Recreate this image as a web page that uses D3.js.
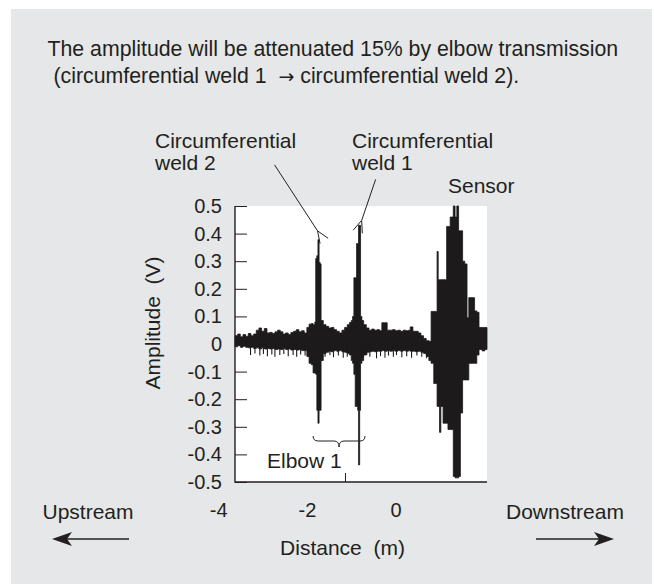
<!DOCTYPE html>
<head>
<meta charset="utf-8">
</head>
<style>
  body { margin: 0; background: #fff; }
  svg text { font-family: "Liberation Sans", Arial, sans-serif; fill: #231f20; white-space: pre; }
  .tick text { font-size: 20px; }
  .tick line { stroke: #231f20; }
</style>
<body>
<script src="https://d3js.org/d3.v7.min.js"></script>
<script>

var distance = [-3.62, -3.56, -3.50, -3.44, -3.38, -3.32, -3.26, -3.20, -3.14, -3.08, -3.02, -2.96, -2.90, -2.84, -2.78, -2.72,
  -2.66, -2.60, -2.54, -2.48, -2.42, -2.36, -2.30, -2.24, -2.18, -2.12, -2.06,
  -2.00, -1.95, -1.90, -1.86, -1.82, -1.80, -1.775, -1.75, -1.725, -1.70, -1.68, -1.63, -1.57, -1.51, -1.45, -1.39,
  -1.33, -1.27, -1.21, -1.15, -1.09, -1.04,
  -1.00, -0.97, -0.94, -0.91, -0.88, -0.855, -0.835, -0.81, -0.79, -0.76, -0.72, -0.66, -0.60, -0.54, -0.48, -0.42,
  -0.36, -0.31, -0.25, -0.19, -0.13, -0.07, -0.01, 0.05, 0.11, 0.17, 0.23, 0.29, 0.33, 0.39, 0.45, 0.51, 0.57, 0.63, 0.69, 0.75,
  0.80, 0.86, 0.92, 0.935, 0.96, 0.99, 1.02, 1.07, 1.12, 1.15, 1.18, 1.23, 1.27, 1.30, 1.34, 1.38, 1.42, 1.46, 1.51, 1.56,
  1.61, 1.65, 1.70, 1.75, 1.78, 1.83, 1.88, 1.95, 2.01, 2.06]

var upper = [0.030, 0.036, 0.026, 0.034, 0.028, 0.038, 0.030, 0.036, 0.050, 0.058, 0.046, 0.056, 0.040, 0.042, 0.038, 0.044,
  0.050, 0.044, 0.036, 0.040, 0.034, 0.042, 0.046, 0.052, 0.044, 0.048, 0.040,
  0.060, 0.072, 0.074, 0.070, 0.080, 0.310, 0.320, 0.378, 0.295, 0.290, 0.085, 0.070, 0.064, 0.058, 0.060, 0.052,
  0.046, 0.040, 0.050, 0.060, 0.070, 0.078,
  0.085, 0.100, 0.240, 0.240, 0.364, 0.364, 0.430, 0.430, 0.100, 0.085, 0.070, 0.058, 0.050, 0.054, 0.050, 0.052,
  0.048, 0.077, 0.077, 0.050, 0.050, 0.052, 0.048, 0.050, 0.046, 0.050, 0.048, 0.050, 0.062, 0.046, 0.046, 0.040, 0.030, 0.020, 0.012, 0.010,
  0.118, 0.118, 0.118, 0.335, 0.233, 0.233, 0.233, 0.233, 0.233, 0.426, 0.426, 0.460, 0.460, 0.500, 0.460, 0.500, 0.410, 0.410, 0.300, 0.290,
  0.095, 0.168, 0.168, 0.168, 0.120, 0.115, 0.060, 0.060, 0.060, 0.060]

var lower = [-0.010, -0.006, -0.012, -0.008, -0.012, -0.014, -0.012, -0.016, -0.014, -0.018, -0.014, -0.018, -0.016, -0.018, -0.016, -0.020,
  -0.018, -0.020, -0.016, -0.020, -0.018, -0.022, -0.020, -0.022, -0.020, -0.024, -0.024,
  -0.045, -0.070, -0.075, -0.105, -0.105, -0.110, -0.240, -0.287, -0.240, -0.240, -0.060, -0.035, -0.030, -0.026, -0.028, -0.024,
  -0.026, -0.024, -0.028, -0.030, -0.034, -0.040,
  -0.060, -0.070, -0.110, -0.226, -0.226, -0.240, -0.438, -0.240, -0.070, -0.060, -0.040, -0.030, -0.028, -0.026, -0.028, -0.026,
  -0.026, -0.024, -0.026, -0.024, -0.026, -0.024, -0.026, -0.024, -0.026, -0.024, -0.026, -0.024, -0.026, -0.026, -0.028, -0.026, -0.030, -0.034, -0.045, -0.060,
  -0.070, -0.143, -0.143, -0.226, -0.226, -0.320, -0.226, -0.287, -0.287, -0.287, -0.310, -0.310, -0.310, -0.480, -0.485, -0.485, -0.480, -0.250, -0.130, -0.130,
  -0.130, -0.070, -0.070, -0.070, -0.070, -0.040, -0.020, -0.025, -0.020, -0.020]

// thin downward spikes below the noise band
var spikeDistance = [-3.27, -3.17, -3.06, -2.98, -2.89, -2.79, -2.72, -2.61, -2.52, -2.42, -2.31, -2.23, -2.14, -2.04,
  -1.59, -1.48, -1.40, -1.29, -1.18, -1.09,
  -0.73, -0.65, -0.58, -0.43, -0.34, -0.24, -0.16, -0.05, 0.02, 0.14, 0.25, 0.36, 0.48, 0.59, 0.70]
var spikeLow = [-0.040, -0.034, -0.042, -0.036, -0.044, -0.038, -0.046, -0.040, -0.036, -0.044, -0.040, -0.046, -0.038, -0.042,
  -0.046, -0.040, -0.048, -0.042, -0.050, -0.046,
  -0.048, -0.040, -0.046, -0.052, -0.044, -0.050, -0.042, -0.046, -0.040, -0.048, -0.044, -0.050, -0.042, -0.046, -0.052]

var yTicks = [0.5, 0.4, 0.3, 0.2, 0.1, 0, -0.1, -0.2, -0.3, -0.4, -0.5]
var xTicks = [-4, -2, 0]
var xInnerTicks = [-1.13]

var svg = d3.select("body").append("svg")
    .attr("width", 654)
    .attr("height", 584)

// grey panel
svg.append("rect")
    .attr("x", 11).attr("y", 9)
    .attr("width", 641).attr("height", 575)
    .attr("fill", "#e6e7e8")

var x = d3.scaleLinear()
    .domain([-3.62, 2.06])
    .range([235, 487])

var y = d3.scaleLinear()
    .domain([-0.5, 0.5])
    .range([482, 206])

// plot area
svg.append("rect")
    .attr("x", x(-3.62)).attr("y", y(0.5))
    .attr("width", x(2.06) - x(-3.62)).attr("height", y(-0.5) - y(0.5))
    .attr("fill", "#fff")

var yAxis = d3.axisLeft(y)
    .tickValues(yTicks)
    .tickSizeInner(-12)
    .tickSizeOuter(0)
    .tickPadding(13)
    .tickFormat(function(d) { return String(d) })

svg.append("g")
    .attr("class", "y axis")
    .attr("transform", "translate(" + x(-3.62) + ",0)")
    .call(yAxis)
    .call(function(g) { g.select(".domain").remove() })

var xAxis = d3.axisBottom(x)
    .tickValues(xTicks)
    .tickSize(0)
    .tickPadding(21)
    .tickFormat(function(d) { return String(d) })

svg.append("g")
    .attr("class", "x axis")
    .attr("transform", "translate(0," + y(-0.5) + ")")
    .call(xAxis)
    .call(function(g) { g.select(".domain").remove(); g.selectAll("line").remove() })

svg.selectAll(".xinner")
    .data(xInnerTicks)
  .enter().append("line")
    .attr("class", "xinner")
    .attr("x1", function(d) { return x(d) }).attr("x2", function(d) { return x(d) })
    .attr("y1", y(-0.5)).attr("y2", y(-0.5) - 9)
    .attr("stroke", "#231f20")

// waveform envelope
var wave = distance.map(function(d, i) { return {d: d, hi: upper[i], lo: lower[i]} })

var area = d3.area()
    .curve(d3.curveStepAfter)
    .x(function(d) { return x(d.d) })
    .y0(function(d) { return y(d.lo) })
    .y1(function(d) { return y(d.hi) })

svg.append("path")
    .datum(wave)
    .attr("d", area)
    .attr("fill", "#1c1a1b")
    .attr("stroke", "#1c1a1b")
    .attr("stroke-width", 0.8)

svg.selectAll(".spike")
    .data(spikeDistance)
  .enter().append("line")
    .attr("class", "spike")
    .attr("x1", function(d) { return x(d) }).attr("x2", function(d) { return x(d) })
    .attr("y1", y(0))
    .attr("y2", function(d, i) { return y(spikeLow[i]) })
    .attr("stroke", "#1c1a1b")
    .attr("stroke-width", 1.1)

// frame, left and bottom
svg.append("path")
    .attr("d", "M" + x(-3.62) + "," + y(0.5) + "V" + y(-0.5) + "H" + x(2.06))
    .attr("fill", "none")
    .attr("stroke", "#231f20")
    .attr("stroke-width", 1.4)

// titles
svg.append("text")
    .attr("x", 47.5).attr("y", 56)
    .style("font-size", "21.3px")
    .text("The amplitude will be attenuated 15% by elbow transmission")

var t2 = svg.append("text")
    .attr("x", 53.5).attr("y", 83)
    .style("font-size", "21.3px")
t2.append("tspan").text("(circumferential weld 1  ")
t2.append("tspan").style("font-family", "'DejaVu Sans'").style("font-size", "19px").text("\u2192")
t2.append("tspan").text(" circumferential weld 2).")

svg.append("text")
    .attr("transform", "translate(160," + 323 + ") rotate(-90)")
    .attr("text-anchor", "middle")
    .style("font-size", "21px")
    .text("Amplitude  (V)")

svg.append("text")
    .attr("x", 342.5).attr("y", 555)
    .attr("text-anchor", "middle")
    .style("font-size", "21px")
    .text("Distance  (m)")

// annotations
function label(lines, px, py) {
  var t = svg.append("text").style("font-size", "21px")
  lines.forEach(function(s, i) {
    t.append("tspan").attr("x", px).attr("y", py + i * 22).text(s)
  })
}
label(["Circumferential", "weld 2"], 155, 148)
label(["Circumferential", "weld 1"], 352, 148)
label(["Sensor"], 448, 193)

function arrow(tx, ty, dx, dy) {
  var ang = Math.atan2(-dy, -dx), len = 13, spread = 0.38
  svg.append("line")
      .attr("x1", tx + dx).attr("y1", ty + dy).attr("x2", tx).attr("y2", ty)
      .attr("stroke", "#231f20").attr("stroke-width", 1)
  svg.append("path")
      .attr("d", "M" + (tx + len * Math.cos(ang - spread)) + "," + (ty + len * Math.sin(ang - spread)) +
        "L" + tx + "," + ty +
        "L" + (tx + len * Math.cos(ang + spread)) + "," + (ty + len * Math.sin(ang + spread)))
      .attr("fill", "none").attr("stroke", "#231f20").attr("stroke-width", 1)
}
arrow(x(-1.76), y(0.41), -43, -66)
arrow(x(-0.765), y(0.448), 14, -41)

// elbow brace
var bx0 = x(-1.86), bx1 = x(-0.69), bm = (bx0 + bx1) / 2, by = 441
svg.append("path")
    .attr("d", "M" + bx0 + "," + (by - 5) + "Q" + bx0 + "," + by + " " + (bx0 + 5) + "," + by +
      "L" + (bm - 5) + "," + by + "Q" + bm + "," + by + " " + bm + "," + (by + 6) +
      "Q" + bm + "," + by + " " + (bm + 5) + "," + by +
      "L" + (bx1 - 5) + "," + by + "Q" + bx1 + "," + by + " " + bx1 + "," + (by - 5))
    .attr("fill", "none").attr("stroke", "#231f20").attr("stroke-width", 1)

svg.append("text")
    .attr("x", 267).attr("y", 468)
    .style("font-size", "21px")
    .text("Elbow 1")

// flow direction
svg.append("text")
    .attr("x", 42.5).attr("y", 519)
    .style("font-size", "21px")
    .text("Upstream")

svg.append("text")
    .attr("x", 506).attr("y", 519)
    .style("font-size", "21px")
    .text("Downstream")

function flow(xa, xb, yy) {
  var dir = xb > xa ? 1 : -1
  svg.append("line")
      .attr("x1", xa).attr("y1", yy).attr("x2", xb - dir * 15).attr("y2", yy)
      .attr("stroke", "#231f20").attr("stroke-width", 1.3)
  svg.append("path")
      .attr("d", "M" + xb + "," + yy + "L" + (xb - dir * 20) + "," + (yy - 7) +
        "L" + (xb - dir * 15) + "," + yy + "L" + (xb - dir * 20) + "," + (yy + 7) + "Z")
      .attr("fill", "#231f20")
}
flow(129, 52, 539)
flow(536, 614, 539)

</script>
</body>
